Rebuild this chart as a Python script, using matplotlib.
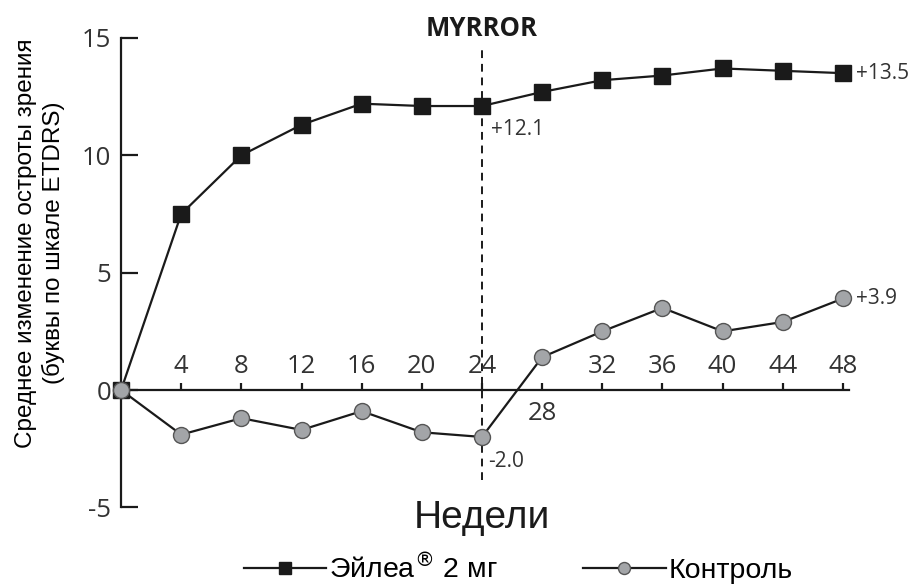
import matplotlib.pyplot as plt

# --- data ---
weeks = [0, 4, 8, 12, 16, 20, 24, 28, 32, 36, 40, 44, 48]
eylea = [0, 7.5, 10.0, 11.3, 12.2, 12.1, 12.1, 12.7, 13.2, 13.4, 13.7, 13.6, 13.5]
control = [0, -1.9, -1.2, -1.7, -0.9, -1.8, -2.0, 1.4, 2.5, 3.5, 2.5, 2.9, 3.9]
yticks = [-5, 0, 5, 10, 15]
xtick_labels = [str(w) for w in weeks[1:]]

fig = plt.figure(figsize=(9.18, 5.84), dpi=100)
ax = fig.add_axes([0.1155, 0.1111, 0.8355, 0.844])
ax.set_xlim(-1, 50)
ax.set_ylim(-5.5, 15.5)

for s in ['top', 'right']:
    ax.spines[s].set_visible(False)
ax.spines['left'].set_position(('data', 0))
ax.spines['bottom'].set_position(('data', 0))
ax.spines['left'].set_bounds(-5, 15)
ax.spines['bottom'].set_bounds(0, 48.4)
for s in ['left', 'bottom']:
    ax.spines[s].set_linewidth(1.6)
    ax.spines[s].set_color('#1a1a1a')

ax.set_yticks(yticks)
ax.set_yticklabels([str(v) for v in yticks], fontfamily='Open Sans', fontsize=18.5, color='#333333')
ax.tick_params(axis='y', direction='in', length=12, width=1.6, pad=7, color='#1a1a1a')
ax.set_xticks(weeks[1:])
ax.set_xticklabels([])
ax.tick_params(axis='x', direction='in', length=5, width=1.6, color='#1a1a1a')

# x labels, above the axis except 28
for w, lab in zip(weeks[1:], xtick_labels):
    if w == 28:
        ax.text(w, -0.45, lab, ha='center', va='top', fontfamily='Open Sans', fontsize=18.5, color='#333333')
    else:
        ax.text(w, 0.45, lab, ha='center', va='bottom', fontfamily='Open Sans', fontsize=18.5, color='#333333')

# dashed line for MYRROR
ax.plot([24, 24], [-3.85, 14.7], color='#1a1a1a', lw=1.4, ls=(0, (4, 3)), zorder=1)
ax.text(24, 15.4, 'MYRROR', ha='center', va='center', fontfamily='Open Sans',
        fontweight='bold', fontsize=18.5, color='#1a1a1a')

ax.plot(weeks, control, color='#1a1a1a', lw=1.6, marker='o', markersize=11.5,
        markerfacecolor='#a3a5a8', markeredgecolor='#555555', markeredgewidth=1.0,
        label='Контроль', zorder=3)
ax.plot(weeks, eylea, color='#1a1a1a', lw=1.6, marker='s', markersize=11.5,
        markerfacecolor='#1a1a1a', markeredgecolor='#1a1a1a',
        label='Эйлеа$^{®}$ 2 мг', zorder=4)
# origin marker of control sits on top
ax.plot(weeks[:1], control[:1], ls='none', marker='o', markersize=11.5,
        markerfacecolor='#a3a5a8', markeredgecolor='#555555', markeredgewidth=1.0, zorder=5)

ann = dict(fontfamily='Open Sans', fontsize=15, color='#333333', va='center', ha='left')
ax.text(24.6, 11.1, '+12.1', **ann)
ax.text(24.4, -3.05, '-2.0', **ann)
ax.text(48.9, eylea[-1], '+13.5', **ann)
ax.text(48.9, control[-1], '+3.9', **ann)

ax.text(24, -5.45, 'Недели', ha='center', va='center', fontfamily='Liberation Sans',
        fontsize=28, color='#1a1a1a')

fig.text(40 / 918, 1 - 243 / 584, 'Среднее изменение остроты зрения\n(буквы по шкале ETDRS)',
         rotation=90, ha='center', va='center', multialignment='center',
         fontfamily='Liberation Sans', fontsize=17.5, color='#000000', linespacing=1.3)

h, l = ax.get_legend_handles_labels()
fig.legend(h[::-1], l[::-1], loc='center', bbox_to_anchor=(518 / 918, 1 - 569 / 584), ncol=2,
           frameon=False, handlelength=2.9, handletextpad=0.1, columnspacing=3.0,
           markerscale=0.75, borderpad=0.2, prop={'family': 'Liberation Sans', 'size': 20.5})

fig.savefig('out.png', dpi=100)
